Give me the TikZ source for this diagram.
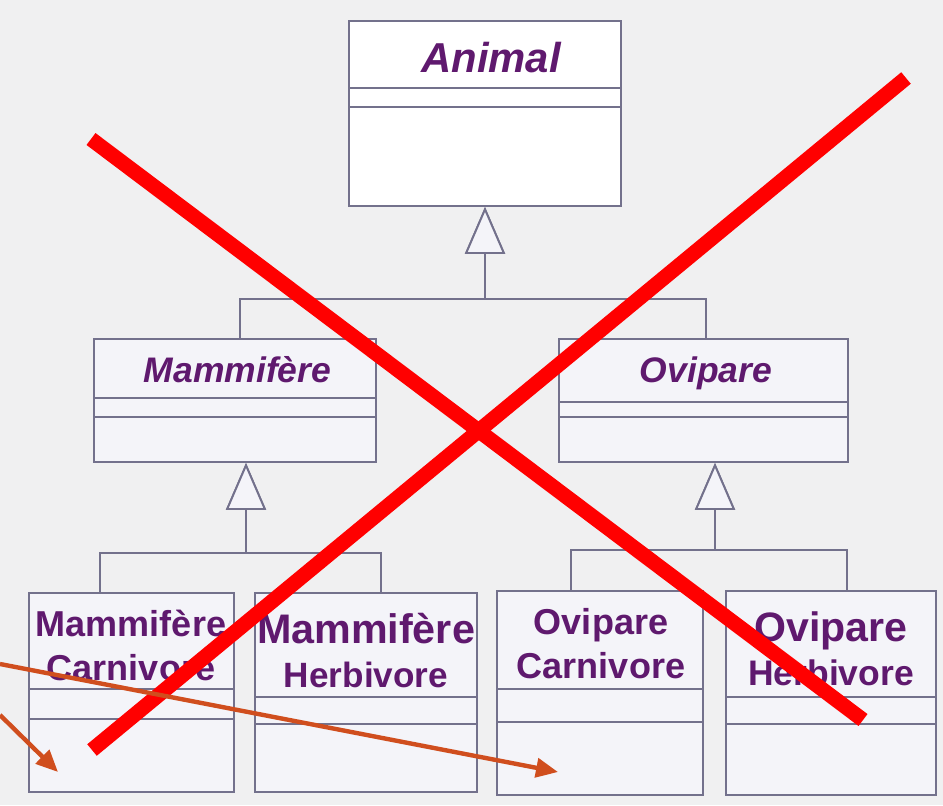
\documentclass[tikz,border=0pt]{standalone}
\usepackage{fontspec}
\setmainfont{Liberation Sans}
\usepackage{xcolor}
\usetikzlibrary{positioning,backgrounds,arrows.meta}
\definecolor{fondgris}{RGB}{240,240,241}
\definecolor{cadre}{RGB}{115,113,140}
\definecolor{remplissage}{RGB}{244,244,249}
\definecolor{violet}{RGB}{95,25,110}
\definecolor{orangefleche}{RGB}{208,78,30}

\begin{document}
\begin{tikzpicture}[x=0.02cm,y=-0.02cm]
                \tikzset{
                  classe/.style={
                    draw=cadre,fill=remplissage,line width=1.1pt,inner sep=0pt,
                  },
                  nom/.style={
                    text=violet,align=center,anchor=base,inner sep=0pt,
                    font=\bfseries\fontsize{20.5}{24.5}\selectfont,
                  },
                  nom abstrait/.style={nom,font=\bfseries\itshape\fontsize{20.2}{24}\selectfont},
                  trait/.style={draw=cadre,line width=1.1pt},
                  heritage/.style={trait,-{Triangle[length=0.94cm,width=0.8cm,fill=remplissage]}},
                  croix/.style={draw=red,line width=8.5pt},
                  fleche/.style={draw=orangefleche,line width=2.5pt,-{Triangle[length=0.44cm,width=0.38cm]}},
                  }
                \useasboundingbox (0,0) rectangle (943,805);
                \fill[fondgris] (0,0) rectangle (943,805);

                % les classes
                \node[classe, fill=white, minimum width=5.44cm, minimum height=3.7cm] (animal) at (485,113.5) {};
                \node[classe, minimum width=5.64cm, minimum height=2.46cm] (mam) at (235,400.5) {};
                \node[classe, minimum width=5.78cm, minimum height=2.46cm] (ovi) at (703.5,400.5) {};
                \node[classe, minimum width=4.1cm, minimum height=3.98cm] (mc) at (131.5,692.5) {};
                \node[classe, minimum width=4.44cm, minimum height=3.98cm] (mh) at (366,692.5) {};
                \node[classe, minimum width=4.12cm, minimum height=4.08cm] (oc) at (600,693) {};
                \node[classe, minimum width=4.2cm, minimum height=4.08cm] (oh) at (831,693) {};

                % les noms (base = ligne du bas)
                \node[nom abstrait, font=\bfseries\itshape\fontsize{23.8}{28}\selectfont] (n-animal) at (491,72) {Animal};
                \node[nom abstrait] (n-mam) at (237.5,382) {Mammifère};
                \node[nom abstrait] (n-ovi) at (706,382) {Ovipare};
                \node[nom] (n-mc) at (131,680) {Mammifère\\Carnivore};
                \node[nom, font=\bfseries\fontsize{20}{25}\selectfont] (n-mh) at (366,687) {{\fontsize{23.5}{25}\selectfont Mammifère}\\Herbivore};
                \node[nom] (n-oc) at (601,678) {Ovipare\\Carnivore};
                \node[nom, font=\bfseries\fontsize{20.2}{24.5}\selectfont] (n-oh) at (831,685) {{\fontsize{23.4}{24.5}\selectfont Ovipare}\\Herbivore};

                % les compartiments
                \draw[trait] (animal.west |- 0,88) -- (animal.east |- 0,88);
                \draw[trait] (animal.west |- 0,107) -- (animal.east |- 0,107);
                \draw[trait] (mam.west |- 0,398) -- (mam.east |- 0,398);
                \draw[trait] (mam.west |- 0,417) -- (mam.east |- 0,417);
                \draw[trait] (ovi.west |- 0,402) -- (ovi.east |- 0,402);
                \draw[trait] (ovi.west |- 0,417) -- (ovi.east |- 0,417);
                \draw[trait] (mc.west |- 0,689) -- (mc.east |- 0,689);
                \draw[trait] (mc.west |- 0,719) -- (mc.east |- 0,719);
                \draw[trait] (mh.west |- 0,697) -- (mh.east |- 0,697);
                \draw[trait] (mh.west |- 0,724) -- (mh.east |- 0,724);
                \draw[trait] (oc.west |- 0,689) -- (oc.east |- 0,689);
                \draw[trait] (oc.west |- 0,722) -- (oc.east |- 0,722);
                \draw[trait] (oh.west |- 0,697) -- (oh.east |- 0,697);
                \draw[trait] (oh.west |- 0,724) -- (oh.east |- 0,724);

                % heritage
                \coordinate (ja) at (485,299);
                \coordinate (jm) at (246,553);
                \coordinate (jo) at (715,550);
                \draw[heritage] (mam.north -| 240,0) |- (ja) -- (animal.south -| ja);
                \draw[heritage] (ovi.north -| 706,0) |- (ja) -- (animal.south -| ja);
                \draw[heritage] (mc.north -| 100,0) |- (jm) -- (mam.south -| jm);
                \draw[heritage] (mh.north -| 381,0) |- (jm) -- (mam.south -| jm);
                \draw[heritage] (oc.north -| 571,0) |- (jo) -- (ovi.south -| jo);
                \draw[heritage] (oh.north -| 847,0) |- (jo) -- (ovi.south -| jo);

                % la croix rouge
                \draw[croix] (91,139) -- (863,720);
                \draw[croix] (906,78) -- (92,750);

                % les fleches
                \coordinate (cible1) at (558,772);
                \coordinate (cible2) at (58,772);
                \draw[fleche] (0,664) -- (cible1);
                \draw[fleche] (0,715) -- (cible2);
              \end{tikzpicture}
\end{document}
